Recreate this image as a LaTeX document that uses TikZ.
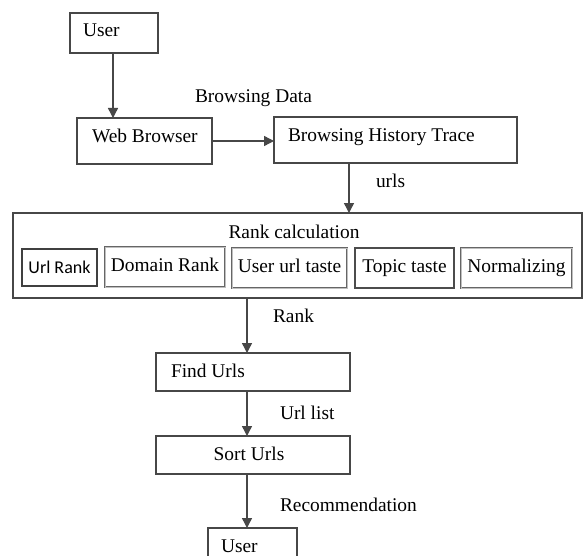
\documentclass[tikz,border=0pt]{standalone}
\usepackage{fontspec}
\setmainfont{Liberation Serif}
\newfontfamily\calfont{Carlito}
\usetikzlibrary{arrows.meta}
\begin{document}
\begin{tikzpicture}[x=1pt,y=-1pt,
  every node/.style={font=\fontsize{19.4}{23}\selectfont, inner sep=0pt, outer sep=0pt},
  box/.style={draw=black!72, line width=1.3pt, fill=white},
  subbox/.style={draw=black!60, double=black!25, double distance=0.5pt, line width=0.8pt, text height=13pt, text depth=5pt},
  thinbox/.style={draw=black!70, line width=1.1pt, text height=13pt, text depth=5pt},
  lbl/.style={anchor=base west},
  flow/.style={draw=black!72, line width=1.4pt, -{Triangle[length=10pt,width=10pt]}}]
\useasboundingbox (0,0) rectangle (583,556);
\clip (0,0) rectangle (583,556);
\fill[white] (0,0) rectangle (583,556);
% boxes
\node[box, minimum width=88, minimum height=40] (user1) at (114,33) {};
\node[box, minimum width=135, minimum height=46] (wb) at (144.5,141) {};
\node[box, minimum width=243, minimum height=46] (bht) at (395.5,140) {};
\node[box, minimum width=569, minimum height=85] (rank) at (297.5,255.5) {};
\node[thinbox, line width=1.5pt, draw=black!75, minimum width=75, minimum height=37, text height=12pt, text depth=0pt,
      font=\calfont\fontsize{18}{20}\selectfont] (urlrank) at (59.5,267.5) {Url Rank};
\node[subbox, minimum width=120, minimum height=40] (domrank) at (165,267) {Domain Rank};
\node[subbox, minimum width=115, minimum height=40] (uut) at (289.5,268) {User url taste};
\node[thinbox, minimum width=99, minimum height=40] (topic) at (404.5,268) {Topic taste};
\node[subbox, minimum width=111, minimum height=40] (norm) at (516.5,268) {Normalizing};
\node[box, minimum width=194, minimum height=38] (find) at (253,372) {};
\node[box, minimum width=194, minimum height=38] (sort) at (253,455) {};
\node[box, minimum width=89, minimum height=40] (user2) at (252.5,548) {};
% texts
\node[lbl] (tuser1) at (83,37) {User};
\node[lbl] (tbd) at (195,103) {Browsing Data};
\node[lbl] (twb) at (92,143) {Web Browser};
\node[lbl] (tbht) at (288,142) {Browsing History Trace};
\node[lbl] (turls) at (376,187) {urls};
\node[anchor=base] (trank) at (294,238) {Rank calculation};
\node[lbl] (trk) at (273,322) {Rank};
\node[lbl] (tfind) at (171,377) {Find Urls};
\node[lbl] (tul) at (280,419) {Url list};
\node[anchor=base] (tsort) at (249,460) {Sort Urls};
\node[lbl] (trec) at (280,511) {Recommendation};
\node[lbl] (tuser2) at (221,552) {User};
% connectors
\coordinate (a1) at ([xshift=-1pt]user1.south);
\draw[flow] (a1) -- (a1 |- wb.north);
\draw[flow] (wb.east) -- (wb.east -| bht.west);
\coordinate (a2) at ([xshift=-46.5pt]bht.south);
\draw[flow] (a2) -- (a2 |- rank.north);
\coordinate (a3) at ([xshift=-50.5pt]rank.south);
\draw[flow] (a3) -- (a3 |- find.north);
\coordinate (a4) at ([xshift=-6pt]find.south);
\draw[flow] (a4) -- (a4 |- sort.north);
\coordinate (a5) at ([xshift=-6pt]sort.south);
\draw[flow] (a5) -- (a5 |- user2.north);
\end{tikzpicture}
\end{document}
